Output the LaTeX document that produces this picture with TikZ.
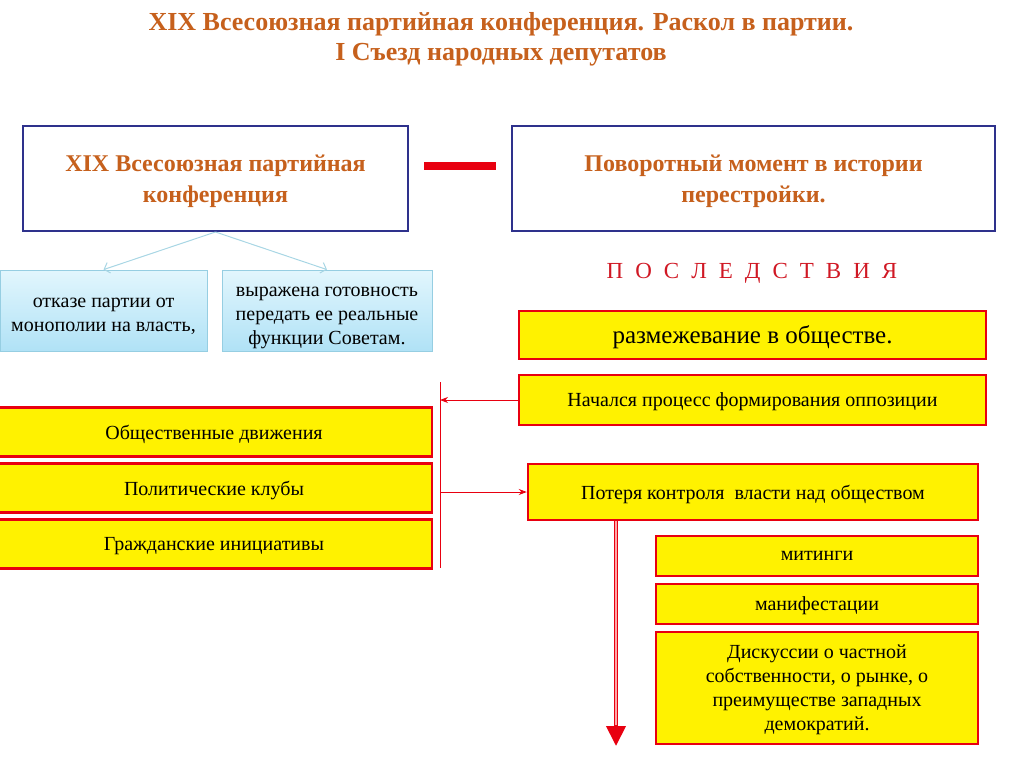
\documentclass[tikz,border=0pt]{standalone}
\usepackage{fontspec}
\setmainfont{Liberation Serif}
\usetikzlibrary{arrows.meta}

\definecolor{titleorange}{RGB}{198,96,28}
\definecolor{frameblue}{RGB}{46,49,140}
\definecolor{lineblue}{RGB}{168,214,228}
\definecolor{celltop}{RGB}{226,246,253}
\definecolor{cellbot}{RGB}{176,226,246}
\definecolor{cellframe}{RGB}{150,206,226}
\definecolor{markred}{RGB}{232,0,16}
\definecolor{wordred}{RGB}{208,24,36}

\begin{document}
\begin{tikzpicture}[x=1pt,y=-1pt,
  headbox/.style={draw=frameblue,line width=2pt,fill=white,align=center,text=titleorange,
    font=\fontsize{24}{31}\selectfont\bfseries,text depth=0pt},
  cellbox/.style={draw=cellframe,line width=0.8pt,top color=celltop,bottom color=cellbot,
    align=center,font=\fontsize{20}{24}\selectfont,text depth=0pt},
  factbox/.style={draw=markred,line width=2.5pt,fill=yellow,align=center,
    font=\fontsize{20}{24}\selectfont,text depth=0pt},
  thinlink/.style={lineblue,line width=1pt,-{Straight Barb[length=5pt,width=11pt]}},
  redlink/.style={markred,line width=0.9pt,-{Stealth[length=8pt,width=6pt]}}]
  \useasboundingbox (0,0) rectangle (1024,767);

  % ---------------- title ----------------
  \node[text=titleorange,font=\fontsize{26}{30}\selectfont\bfseries,align=center] (title) at (501,39)
    {XIX Всесоюзная партийная конференция. Раскол в партии.\\I Съезд народных депутатов};

  % ---------------- top row ----------------
  \node[headbox,minimum width=385,minimum height=105] (conf) at (215.5,178.5)
    {XIX Всесоюзная партийная\\конференция};
  \node[headbox,minimum width=483,minimum height=105] (turn) at (753.5,178.5)
    {Поворотный момент в истории\\перестройки.};
  \draw[markred,line width=8pt] (424,166) -- (496,166);

  \node[cellbox,minimum width=207,minimum height=81,text height=42pt] (refuse) at (103.5,310.5)
    {отказе партии от\\монополии на власть,};
  \node[cellbox,minimum width=210,minimum height=81,text height=68pt] (ready) at (327,310.5)
    {выражена готовность\\передать ее реальные\\функции Советам.};
  \draw[thinlink] (conf.south) -- (refuse.north);
  \draw[thinlink] (conf.south) -- (ready.north);

  % ---------------- consequences ----------------
  \node[text=wordred,font=\fontsize{23}{26}\selectfont] (conseq) at (752,273)
    {\spaceskip=12pt П О С Л Е Д С Т В И Я};
  \node[factbox,minimum width=467,minimum height=48,font=\fontsize{25}{28}\selectfont] (split) at (752.5,335)
    {размежевание в обществе.};
  \node[factbox,minimum width=467,minimum height=50] (opp) at (752.5,400)
    {Начался процесс формирования оппозиции};
  \node[factbox,minimum width=450,minimum height=56] (loss) at (753,492)
    {Потеря контроля\ \ власти над обществом};

  % left column
  \foreach \t [count=\i from 0] in {Общественные движения,Политические клубы,Гражданские инициативы}{
    \node[factbox,minimum width=436,minimum height=49] (grp\i) at (214,432+\i*56) {\t};
  }
  \coordinate (bartop) at (440,382);
  \coordinate (barbot) at (440,568);
  \draw[markred,line width=0.9pt] (bartop) -- (barbot);
  \draw[redlink] (opp.west) -- (opp.west -| bartop);
  \draw[redlink] (loss.west -| bartop) -- (loss.west);

  % right column
  \node[factbox,minimum width=322,minimum height=40] (rally) at (817,556) {митинги};
  \node[factbox,minimum width=322,minimum height=40] (march) at (817,604) {манифестации};
  \node[factbox,minimum width=322,minimum height=112] (debate) at (817,688)
    {Дискуссии о частной\\собственности, о рынке, о\\преимуществе западных\\демократий.};

  \coordinate (tail) at (616,746);
  \draw[markred,line width=4pt,-{Triangle[length=20pt,width=19pt]}] (loss.south -| tail) -- (tail);
  \draw[red!35,line width=1.2pt,shorten >=21pt] (loss.south -| tail) -- (tail);
\end{tikzpicture}
\end{document}
